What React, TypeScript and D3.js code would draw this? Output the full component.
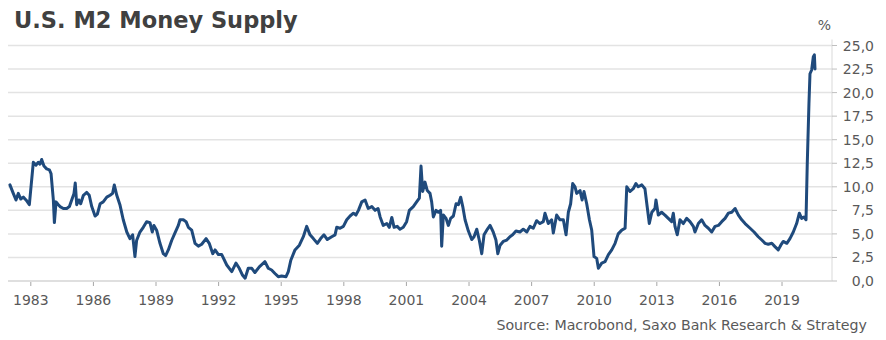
import React from "react";
import * as d3 from "d3";

const TITLE = "U.S. M2 Money Supply";
const SOURCE = "Source: Macrobond, Saxo Bank Research & Strategy";
const UNIT = "%";

const xTickYears = [1983, 1986, 1989, 1992, 1995, 1998, 2001, 2004, 2007, 2010, 2013, 2016, 2019];
const yTicks = [0, 2.5, 5, 7.5, 10, 12.5, 15, 17.5, 20, 22.5, 25];

// decimal year of observation
const dates = [
  1982.00, 1982.16, 1982.29, 1982.40, 1982.52, 1982.64, 1982.77, 1982.93, 1983.12, 1983.25,
  1983.36, 1983.44, 1983.52, 1983.63, 1983.76, 1983.89, 1983.97, 1984.08, 1984.13, 1984.21,
  1984.32, 1984.40, 1984.56, 1984.72, 1984.85, 1984.96, 1985.07, 1985.13, 1985.20, 1985.30,
  1985.39, 1985.52, 1985.68, 1985.80, 1985.92, 1986.08, 1986.19, 1986.32, 1986.47, 1986.64,
  1986.80, 1986.92, 1987.00, 1987.12, 1987.27, 1987.43, 1987.60, 1987.75, 1987.88, 1987.99,
  1988.07, 1988.23, 1988.39, 1988.55, 1988.71, 1988.82, 1988.90, 1989.03, 1989.19, 1989.35,
  1989.46, 1989.59, 1989.75, 1989.91, 1990.07, 1990.15, 1990.31, 1990.44, 1990.55, 1990.71,
  1990.87, 1991.03, 1991.19, 1991.40, 1991.55, 1991.72, 1991.83, 1991.99, 1992.15, 1992.39,
  1992.63, 1992.83, 1992.99, 1993.15, 1993.27, 1993.42, 1993.59, 1993.74, 1993.95, 1994.22,
  1994.38, 1994.54, 1994.70, 1994.86, 1995.02, 1995.23, 1995.34, 1995.46, 1995.66, 1995.87,
  1996.06, 1996.22, 1996.38, 1996.54, 1996.73, 1996.89, 1997.05, 1997.21, 1997.42, 1997.58,
  1997.66, 1997.82, 1997.98, 1998.14, 1998.30, 1998.46, 1998.58, 1998.70, 1998.86, 1999.02,
  1999.17, 1999.34, 1999.50, 1999.64, 1999.74, 1999.89, 2000.06, 2000.18, 2000.30, 2000.41,
  2000.56, 2000.69, 2000.85, 2001.01, 2001.14, 2001.33, 2001.49, 2001.62, 2001.70, 2001.78,
  2001.89, 2002.00, 2002.13, 2002.21, 2002.29, 2002.42, 2002.53, 2002.64, 2002.69, 2002.77,
  2002.90, 2003.01, 2003.12, 2003.25, 2003.38, 2003.49, 2003.60, 2003.70, 2003.81, 2003.97,
  2004.13, 2004.24, 2004.37, 2004.49, 2004.61, 2004.72, 2004.85, 2005.01, 2005.16, 2005.29,
  2005.38, 2005.49, 2005.64, 2005.81, 2005.96, 2006.09, 2006.25, 2006.44, 2006.60, 2006.77,
  2006.92, 2007.08, 2007.24, 2007.40, 2007.56, 2007.64, 2007.80, 2007.96, 2008.04, 2008.20,
  2008.36, 2008.52, 2008.65, 2008.76, 2008.87, 2008.97, 2009.08, 2009.16, 2009.32, 2009.42,
  2009.51, 2009.64, 2009.77, 2009.88, 2009.99, 2010.12, 2010.20, 2010.36, 2010.52, 2010.68,
  2010.84, 2011.00, 2011.15, 2011.32, 2011.48, 2011.56, 2011.72, 2011.87, 2012.00, 2012.11,
  2012.28, 2012.43, 2012.52, 2012.64, 2012.76, 2012.91, 2012.96, 2013.07, 2013.23, 2013.39,
  2013.55, 2013.71, 2013.79, 2013.87, 2013.98, 2014.11, 2014.27, 2014.43, 2014.59, 2014.75,
  2014.83, 2014.99, 2015.15, 2015.31, 2015.47, 2015.63, 2015.79, 2015.95, 2016.11, 2016.27,
  2016.43, 2016.59, 2016.75, 2016.91, 2017.07, 2017.23, 2017.47, 2017.66, 2017.86, 2018.03,
  2018.19, 2018.34, 2018.51, 2018.66, 2018.82, 2018.94, 2019.06, 2019.23, 2019.38, 2019.54,
  2019.70, 2019.83, 2019.94, 2020.05, 2020.15, 2020.21, 2020.29, 2020.34, 2020.42, 2020.50,
  2020.55, 2020.58,
];

// year-over-year growth, %
const m2Growth = [
  10.2, 9.3, 8.6, 9.3, 8.7, 8.9, 8.6, 8.1, 12.6, 12.3,
  12.6, 12.4, 12.9, 12.2, 11.9, 11.8, 11.4, 8.6, 6.2, 8.4,
  8.1, 7.9, 7.7, 7.7, 7.9, 8.6, 9.3, 10.4, 8.1, 8.6,
  8.2, 9.1, 9.4, 9.1, 7.9, 6.9, 7.1, 8.2, 8.4, 8.9,
  9.1, 9.3, 10.2, 9.1, 8.1, 6.5, 5.2, 4.5, 4.9, 2.6,
  4.3, 5.2, 5.7, 6.3, 6.2, 5.2, 5.9, 5.4, 4.0, 2.9,
  2.7, 3.3, 4.3, 5.1, 5.9, 6.5, 6.5, 6.3, 5.7, 5.4,
  4.0, 3.7, 3.9, 4.5, 4.0, 2.9, 3.3, 2.8, 2.8, 1.7,
  1.0, 1.9, 1.35, 0.6, 0.3, 1.35, 1.35, 0.9, 1.5, 2.05,
  1.35, 1.17, 0.8, 0.46, 0.54, 0.46, 1.0, 2.2, 3.3, 3.8,
  4.7, 5.8, 4.9, 4.5, 4.0, 4.5, 4.9, 4.4, 4.7, 4.9,
  5.7, 5.6, 5.8, 6.5, 6.9, 7.2, 7.0, 7.5, 8.4, 8.6,
  7.7, 7.9, 7.5, 7.7, 6.8, 5.9, 6.1, 5.7, 6.75, 5.7,
  5.8, 5.5, 5.7, 6.3, 7.5, 7.9, 8.4, 8.8, 12.2, 9.5,
  10.5, 9.6, 9.3, 8.4, 6.8, 7.5, 7.3, 7.5, 3.7, 7.0,
  6.65, 5.9, 6.65, 6.9, 8.2, 8.1, 8.9, 7.9, 6.5, 5.3,
  4.4, 4.7, 5.5, 4.35, 2.9, 4.9, 5.4, 5.9, 5.2, 4.35,
  2.9, 3.8, 4.2, 4.35, 4.7, 4.9, 5.3, 5.2, 5.5, 5.2,
  5.8, 5.6, 6.4, 6.1, 6.3, 7.2, 6.1, 6.5, 5.1, 7.0,
  6.5, 6.5, 4.9, 7.3, 8.2, 10.35, 10.0, 9.3, 9.6, 8.6,
  9.5, 8.2, 6.5, 5.4, 2.6, 2.4, 1.35, 1.9, 2.05, 2.8,
  3.3, 4.0, 5.0, 5.4, 5.6, 10.0, 9.5, 9.8, 10.35, 10.0,
  10.2, 9.8, 8.2, 6.1, 7.3, 7.7, 8.6, 7.0, 7.3, 7.0,
  6.65, 6.3, 7.2, 5.8, 4.9, 6.5, 6.1, 6.65, 6.3, 5.8,
  5.2, 6.1, 6.5, 5.9, 5.6, 5.2, 5.8, 5.9, 6.3, 6.65,
  7.2, 7.3, 7.7, 7.0, 6.5, 6.1, 5.6, 5.2, 4.7, 4.35,
  4.0, 3.9, 4.0, 3.65, 3.3, 3.8, 4.2, 4.0, 4.5, 5.2,
  6.1, 7.2, 6.65, 6.8, 6.5, 12.5, 18.8, 22.0, 22.4, 23.8,
  24.0, 22.5,
];

const W = 886;
const H = 340;
const FONT = "'DejaVu Sans', Verdana, sans-serif";

export default function App() {
  const x = d3.scaleLinear().domain([1981.907, 2021.395]).range([8, 832]);
  const y = d3.scaleLinear().domain([0, 25]).range([281, 45.5]);

  const points: [number, number][] = dates.map((d, i) => [d, m2Growth[i]]);
  const line = d3
    .line<[number, number]>()
    .x((d) => x(d[0]))
    .y((d) => y(d[1]))
    .curve(d3.curveLinear);

  const fmt = (v: number) => v.toFixed(1).replace(".", ",");
  const [x0, x1] = x.range();

  return (
    <svg
      width={W}
      height={H}
      style={{ position: "absolute", left: 0, top: 0, background: "#fff" }}
      fontFamily={FONT}
    >
      <rect width={W} height={H} fill="#fff" />
      <text x={14} y={27.5} fontSize={22.5} fontWeight="bold" fill="#404040">
        {TITLE}
      </text>

      {/* gridlines */}
      {yTicks.map((t) =>
        t === 0 ? null : (
          <line key={"g" + t} x1={x0} x2={x1} y1={y(t)} y2={y(t)} stroke="#e3e3e3" strokeWidth={1.5} />
        )
      )}

      {/* right axis */}
      <line x1={x1} x2={x1} y1={y(25) - 6} y2={y(0)} stroke="#d9d9d9" strokeWidth={1} />
      {yTicks.map((t) => (
        <g key={"y" + t}>
          <line x1={x1} x2={x1 + 5} y1={y(t)} y2={y(t)} stroke="#bfbfbf" strokeWidth={1} />
          <text x={874} y={y(t)} dy="0.36em" textAnchor="end" fontSize={14} fill="#595959">
            {fmt(t)}
          </text>
        </g>
      ))}
      <text x={831} y={30} textAnchor="end" fontSize={14} fill="#595959">
        {UNIT}
      </text>

      {/* x axis */}
      <line x1={x0} x2={x1} y1={y(0)} y2={y(0)} stroke="#d4d4d4" strokeWidth={1.5} />
      {xTickYears.map((yr) => (
        <g key={"x" + yr}>
          <line x1={x(yr)} x2={x(yr)} y1={y(0) + 1} y2={y(0) + 5} stroke="#a6a6a6" strokeWidth={1} />
          <text x={x(yr)} y={305} textAnchor="middle" fontSize={14} fill="#595959">
            {yr}
          </text>
        </g>
      ))}

      <path
        d={line(points) || ""}
        fill="none"
        stroke="#1f4a7c"
        strokeWidth={3}
        strokeLinejoin="round"
        strokeLinecap="round"
      />

      <text x={867} y={330} textAnchor="end" fontSize={14.2} fill="#595959">
        {SOURCE}
      </text>
    </svg>
  );
}
